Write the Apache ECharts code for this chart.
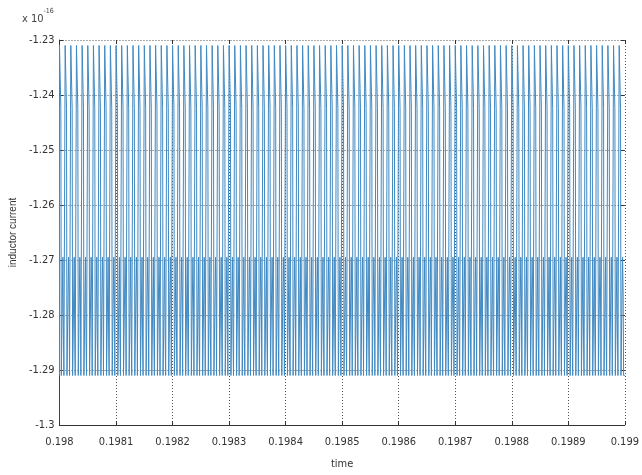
<!DOCTYPE html>
<html><head><meta charset="utf-8">
<script src="https://cdn.jsdelivr.net/npm/echarts@6/dist/echarts.min.js"></script>
<style>html,body{margin:0;padding:0;background:#fff}#c{width:642px;height:475px}</style>
</head><body><div id="c"></div>
<script>
// Axis ticks (x in seconds, y in units of 1e-16)
const xTickLabels = ['0.198','0.1981','0.1982','0.1983','0.1984','0.1985','0.1986','0.1987','0.1988','0.1989','0.199'];
const yTickLabels = ['-1.3','-1.29','-1.28','-1.27','-1.26','-1.25','-1.24','-1.23'];
// Waveform: ~100 switching periods from 0.198 s
const tStart = 0.198;
const periodSec = 1e-5;
const periodCount = 100;
// one period: fraction of period, value (x1e-16)
const shapeFrac = [0.00,   0.00,   0.24,   0.24,    0.32,    0.32,   0.60,   0.60,    0.70,    0.70,   0.78,   0.78];
const shapeLevA = [-1.291, -1.231, -1.231, -1.2425, -1.2425, -1.291, -1.291, -1.2695, -1.2695, -1.2845, -1.2845, -1.291];
const shapeLevB = [-1.291, -1.231, -1.231, -1.2425, -1.2425, -1.291, -1.291, -1.2695, -1.2695, -1.276,  -1.276,  -1.291];

const data = [];
for (let p = 0; p < periodCount; p++) {
  const lev = (p % 2 === 0) ? shapeLevA : shapeLevB;
  for (let i = 0; i < shapeFrac.length; i++) {
    const t = tStart + (p + shapeFrac[i]) * periodSec;
    data.push([t * 1e4, lev[i] * 100]);
  }
}
data.push([(tStart + periodCount * periodSec) * 1e4, -1.291 * 100]);

const xMin = parseFloat(xTickLabels[0]) * 1e4, xMax = parseFloat(xTickLabels[xTickLabels.length-1]) * 1e4;
const yMin = Math.round(parseFloat(yTickLabels[0]) * 100), yMax = Math.round(parseFloat(yTickLabels[yTickLabels.length-1]) * 100);

const font = "'Liberation Sans Narrow','DejaVu Sans Condensed','Roboto Condensed',sans-serif";
const chart = echarts.init(document.getElementById('c'), null, {renderer: 'canvas'});
const grid = {left: 38, right: 9, top: 40, bottom: 48};
const splitLine = {show: true, lineStyle: {color: '#555', type: [1, 2], width: 1}};
chart.setOption({
  animation: false,
  backgroundColor: '#fff',
  grid: grid,
  graphic: [{
    type: 'text', left: 22, top: 8,
    style: {
      text: '{a|x 10}{b|-16}',
      rich: {
        a: {fontFamily: font, fontSize: 11, fill: '#444', verticalAlign: 'bottom', padding: [6,0,0,0]},
        b: {fontFamily: font, fontSize: 7, fill: '#444', verticalAlign: 'top'}
      }
    }
  }],
  xAxis: [{
    type: 'value', min: xMin, max: xMax, interval: 1,
    name: 'time', nameLocation: 'middle', nameGap: 34,
    nameTextStyle: {fontFamily: font, fontSize: 11, color: '#333'},
    axisLine: {show: true, lineStyle: {color: '#333', width: 1}},
    axisTick: {show: true, inside: true, length: 4, lineStyle: {color: '#333'}},
    axisLabel: {fontFamily: font, fontSize: 11, color: '#333', margin: 12,
      formatter: v => xTickLabels[Math.round(v - xMin)] || ''},
    splitLine: splitLine
  }, {
    type: 'value', position: 'top', min: xMin, max: xMax, interval: 1,
    axisLine: {show: false}, axisLabel: {show: false}, splitLine: {show: false},
    axisTick: {show: true, inside: true, length: 4, lineStyle: {color: '#333'}}
  }],
  yAxis: [{
    type: 'value', min: yMin, max: yMax, interval: 1,
    name: 'inductor current', nameLocation: 'middle', nameGap: 24,
    nameTextStyle: {fontFamily: "'Liberation Sans','Arial',sans-serif", fontSize: 10, color: '#333'},
    axisLine: {show: true, lineStyle: {color: '#444', width: 1}},
    axisTick: {show: true, inside: true, length: 4, lineStyle: {color: '#333'}},
    axisLabel: {fontFamily: font, fontSize: 11, color: '#333', margin: 5,
      formatter: v => yTickLabels[Math.round(v - yMin)] || ''},
    splitLine: splitLine
  }, {
    type: 'value', position: 'right', min: yMin, max: yMax, interval: 1,
    axisLine: {show: false}, axisLabel: {show: false}, splitLine: {show: false},
    axisTick: {show: true, inside: true, length: 4, lineStyle: {color: '#333'}}
  }],
  series: [{
    type: 'line', data: data, showSymbol: false, symbol: 'none',
    lineStyle: {color: '#4089c2', width: 1}, clip: true
  }]
});
</script></body></html>
